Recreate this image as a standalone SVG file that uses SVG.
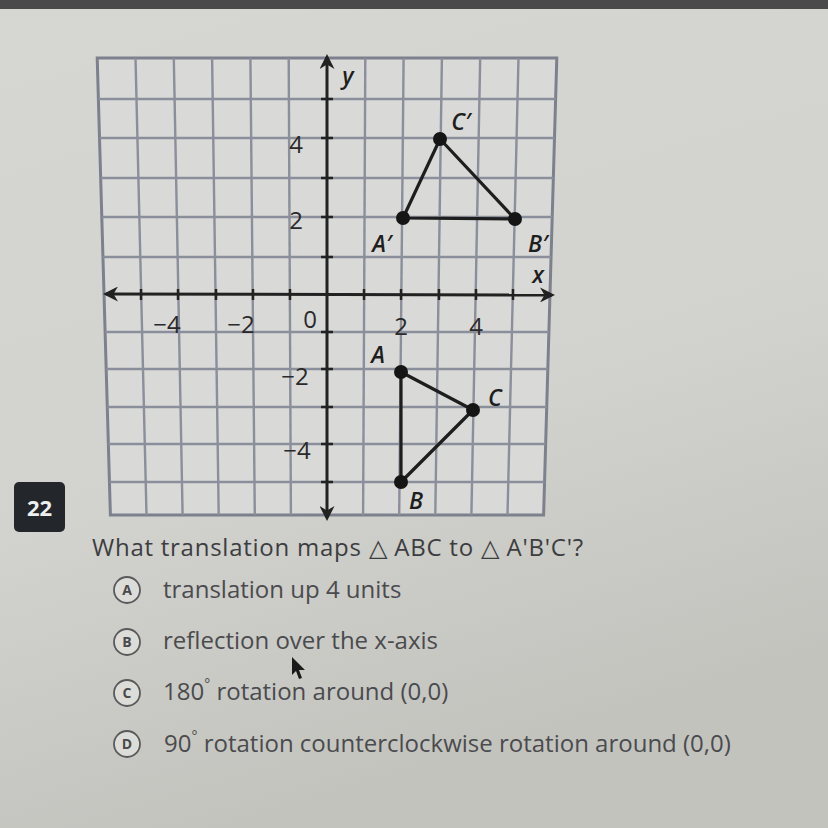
<svg xmlns="http://www.w3.org/2000/svg" width="828" height="828" viewBox="0 0 828 828">
<defs>
<linearGradient id="bg" x1="0" y1="0" x2="0.3" y2="1">
<stop offset="0" stop-color="#d6d7d3"/>
<stop offset="0.6" stop-color="#d2d2ce"/>
<stop offset="1" stop-color="#c3c3be"/>
</linearGradient>
<marker id="ah" viewBox="0 0 10 10" refX="8" refY="5" markerWidth="5" markerHeight="5" orient="auto-start-reverse" markerUnits="strokeWidth">
<path d="M0,0 L10,5 L0,10 L3,5 z" fill="#222"/>
</marker>
<style>
.g{stroke:#8b8e9b;stroke-width:2.4;fill:none}
.ax{stroke:#222;stroke-width:3;fill:none}
.tk{stroke:#222;stroke-width:2.5}
.edge{stroke:#1e1e1e;stroke-width:3.2;fill:none;stroke-linejoin:round}
.pt{fill:#151515}
.num{font-family:"Open Sans","Liberation Sans",sans-serif;font-size:24px;fill:#2a2a2a;text-anchor:middle}
.lab{font-family:"Open Sans","Liberation Sans",sans-serif;font-size:23px;font-style:italic;font-weight:600;fill:#1e1e1e;text-anchor:middle}
.q{font-family:"Open Sans","Liberation Sans",sans-serif;font-size:24px;fill:#3c3d40}
.opt{font-family:"Open Sans","Liberation Sans",sans-serif;font-size:24px;fill:#4a4b4e}
.circ{fill:#dcdcd8;stroke:#5a5a5c;stroke-width:1.8}
.cl{font-family:"Open Sans","Liberation Sans",sans-serif;font-size:14px;font-weight:700;fill:#4a4a4c;text-anchor:middle}
</style>
</defs>
<rect width="828" height="828" fill="url(#bg)"/>
<rect width="828" height="9" fill="#4a4a4a"/>
<g id="grid">
<polygon points="97.2,58 556.8,58 543.6,515 110.4,515" fill="#d9dad7" stroke="#7d808d" stroke-width="3"/>
<line class="g" x1="135.5" y1="58" x2="146.5" y2="515"/>
<line class="g" x1="173.8" y1="58" x2="182.6" y2="515"/>
<line class="g" x1="212.1" y1="58" x2="218.7" y2="515"/>
<line class="g" x1="250.4" y1="58" x2="254.8" y2="515"/>
<line class="g" x1="288.7" y1="58" x2="290.9" y2="515"/>
<line class="g" x1="365.3" y1="58" x2="363.1" y2="515"/>
<line class="g" x1="403.6" y1="58" x2="399.2" y2="515"/>
<line class="g" x1="441.9" y1="58" x2="435.3" y2="515"/>
<line class="g" x1="480.2" y1="58" x2="471.4" y2="515"/>
<line class="g" x1="518.5" y1="58" x2="507.5" y2="515"/>
<line class="g" x1="98.4" y1="99" x2="555.6" y2="99"/>
<line class="g" x1="99.5" y1="138" x2="554.5" y2="138"/>
<line class="g" x1="100.7" y1="178" x2="553.3" y2="178"/>
<line class="g" x1="101.8" y1="217" x2="552.2" y2="217"/>
<line class="g" x1="103" y1="257" x2="551" y2="257"/>
<line class="g" x1="105.1" y1="332" x2="548.9" y2="332"/>
<line class="g" x1="106.2" y1="369" x2="547.8" y2="369"/>
<line class="g" x1="107.3" y1="407" x2="546.7" y2="407"/>
<line class="g" x1="108.4" y1="444" x2="545.6" y2="444"/>
<line class="g" x1="109.4" y1="482" x2="544.6" y2="482"/>
</g>
<g id="axes">
<line class="ax" x1="106" y1="294" x2="552" y2="295" marker-start="url(#ah)" marker-end="url(#ah)"/>
<line class="ax" x1="327" y1="57" x2="327" y2="518" marker-start="url(#ah)" marker-end="url(#ah)"/>
<g class="tk">
<line x1="141" y1="289" x2="141" y2="300"/>
<line x1="178" y1="289" x2="178" y2="300"/>
<line x1="216" y1="289" x2="216" y2="300"/>
<line x1="253" y1="289" x2="253" y2="300"/>
<line x1="290" y1="289" x2="290" y2="300"/>
<line x1="364" y1="289" x2="364" y2="300"/>
<line x1="401" y1="289" x2="401" y2="300"/>
<line x1="439" y1="289" x2="439" y2="300"/>
<line x1="476" y1="289" x2="476" y2="300"/>
<line x1="513" y1="289" x2="513" y2="300"/>
<line x1="321" y1="99" x2="333" y2="99"/>
<line x1="321" y1="138" x2="333" y2="138"/>
<line x1="321" y1="178" x2="333" y2="178"/>
<line x1="321" y1="217" x2="333" y2="217"/>
<line x1="321" y1="257" x2="333" y2="257"/>
<line x1="321" y1="332" x2="333" y2="332"/>
<line x1="321" y1="369" x2="333" y2="369"/>
<line x1="321" y1="407" x2="333" y2="407"/>
<line x1="321" y1="444" x2="333" y2="444"/>
<line x1="321" y1="482" x2="333" y2="482"/>
</g>
<text class="lab" x="348" y="84" font-size="25">y</text>
<text class="lab" x="538" y="283">x</text>
<text class="num" x="296" y="153">4</text>
<text class="num" x="296" y="229">2</text>
<text class="num" x="167" y="333">−4</text>
<text class="num" x="241" y="333">−2</text>
<text class="num" x="310" y="328">0</text>
<text class="num" x="401" y="335">2</text>
<text class="num" x="476" y="335">4</text>
<text class="num" x="295" y="385">−2</text>
<text class="num" x="297" y="459">−4</text>
</g>
<g id="triangle-prime">
<polygon class="edge" points="403,218 440,139 515,219"/>
<circle class="pt" cx="403" cy="218" r="7"/>
<circle class="pt" cx="440" cy="139" r="7"/>
<circle class="pt" cx="515" cy="219" r="7"/>
<text class="lab" x="461" y="130">C′</text>
<text class="lab" x="382" y="252">A′</text>
<text class="lab" x="538" y="252">B′</text>
</g>
<g id="triangle">
<polygon class="edge" points="401,372 473,410 401,482"/>
<circle class="pt" cx="401" cy="372" r="7"/>
<circle class="pt" cx="473" cy="410" r="7"/>
<circle class="pt" cx="401" cy="482" r="7"/>
<text class="lab" x="378" y="363">A</text>
<text class="lab" x="495" y="406" font-style="normal" font-weight="400">C</text>
<text class="lab" x="416" y="509">B</text>
</g>
<g id="number">
<rect x="14" y="482" width="51" height="50" rx="5" fill="#23272b"/>
<text x="39.5" y="516" font-family="Open Sans, Liberation Sans, sans-serif" font-size="22" font-weight="700" fill="#eef0f0" text-anchor="middle">22</text>
</g>
<g id="question">
<text class="q" x="92" y="556" textLength="491" lengthAdjust="spacing">What translation maps △ ABC to △ A'B'C'?</text>
</g>
<g id="option-a">
<circle class="circ" cx="127" cy="590" r="13"/>
<text class="cl" x="127" y="595">A</text>
<text class="opt" x="163" y="598">translation up 4 units</text>
</g>
<g id="option-b">
<circle class="circ" cx="127" cy="642" r="13"/>
<text class="cl" x="127" y="647">B</text>
<text class="opt" x="163" y="649">reflection over the x-axis</text>
</g>
<g id="option-c">
<circle class="circ" cx="127" cy="693" r="13"/>
<text class="cl" x="127" y="698">C</text>
<text class="opt" x="163" y="700">180<tspan dy="-11" font-size="14">°</tspan><tspan dy="11">  rotation around (0,0)</tspan></text>
</g>
<g id="option-d">
<circle class="circ" cx="127" cy="744" r="13"/>
<text class="cl" x="127" y="749">D</text>
<text class="opt" x="164" y="752">90<tspan dy="-11" font-size="14">°</tspan><tspan dy="11"> rotation counterclockwise rotation around (0,0)</tspan></text>
</g>
<g id="cursor">
<polygon points="292,657 292,675 296,671 299,679 302,678 299,670 305,670" fill="#1a1a1a"/>
</g>
</svg>
